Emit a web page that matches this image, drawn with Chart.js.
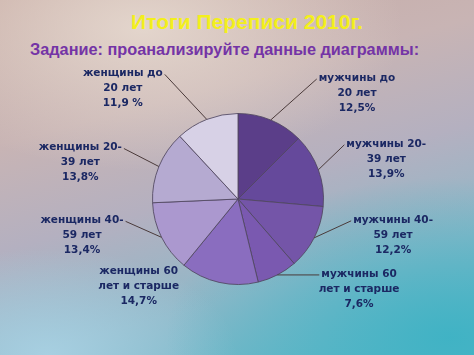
<!DOCTYPE html>
<html lang="ru">
<head>
<meta charset="utf-8">
<title>Итоги Переписи 2010г.</title>
<script src="https://cdn.jsdelivr.net/npm/chart.js@4"></script>
<style>
  html, body { margin: 0; padding: 0; }
  body {
    width: 474px; height: 355px; overflow: hidden; position: relative;
    background:
      radial-gradient(ellipse 55% 40% at 30% 8%, rgba(232,220,210,0.85), rgba(232,220,210,0) 100%),
      radial-gradient(ellipse 60% 45% at 95% 95%, rgba(60,178,196,0.9), rgba(60,178,196,0) 100%),
      radial-gradient(ellipse 40% 30% at 10% 100%, rgba(170,210,228,0.9), rgba(170,210,228,0) 100%),
      linear-gradient(165deg, #c7aba4 0%, #c8b4b4 30%, #b4b0c0 52%, #8fb8c8 75%, #5cb8c8 100%);
    font-family: "Liberation Sans", Arial, sans-serif;
  }
  .head { position: absolute; left: 0; width: 474px; font-weight: bold; white-space: nowrap; }
  #title { top: 10px; text-align: center; padding-left: 20px; box-sizing: border-box;
           color: #f3ef1c; font-size: 21px; }
  #subtitle { top: 40px; left: 30px; width: auto; color: #7434a6; font-size: 16.3px; }
  canvas { position: absolute; left: 0; top: 0; }
</style>
</head>
<body>
<div id="title" class="head">Итоги Переписи 2010г.</div>
<div id="subtitle" class="head">Задание: проанализируйте данные диаграммы:</div>
<canvas id="censusChart" width="474" height="355"></canvas>
<script>
// --- DATA ---
const groups = [
  ['мужчины до', '20 лет'],
  ['мужчины 20-', '39 лет'],
  ['мужчины 40-', '59 лет'],
  ['мужчины 60', 'лет и старше'],
  ['женщины 60', 'лет и старше'],
  ['женщины 40-', '59 лет'],
  ['женщины 20-', '39 лет'],
  ['женщины до', '20 лет']
];
const shares = [12.5, 13.9, 12.2, 7.6, 14.7, 13.4, 13.8, 11.9];
const shareText = ['12,5%', '13,9%', '12,2%', '7,6%', '14,7%', '13,4%', '13,8%', '11,9 %'];

// --- LOOK ---
const sliceColors = ['#5b3e89', '#65499b', '#7455a8', '#7a59b0', '#8a6dbf', '#ab98cf', '#b5aad1', '#d7d1e6'];
// where each callout elbow sits relative to the slice edge: [dx, dy, side, drawLine]
const callouts = [
  [46, -41, 1, true],
  [26, -25, 1, true],
  [37, -17, 1, true],
  [42, 0, 1, true],
  [-39, -10, -1, false],
  [-36, -16, -1, true],
  [-35, -18, -1, true],
  [-42, -45, -1, true]
];

// --- CALLOUT PLUGIN ---
const calloutPlugin = {
  id: 'callouts',
  afterDatasetsDraw(chart) {
    const c = chart.ctx;
    const arcs = chart.getDatasetMeta(0).data;
    c.save();
    c.font = 'bold 10.5px "DejaVu Sans", sans-serif';
    c.textBaseline = 'middle';
    c.textAlign = 'center';
    arcs.forEach((arc, i) => {
      const { x, y, startAngle, endAngle, outerRadius } = arc.getProps(['x', 'y', 'startAngle', 'endAngle', 'outerRadius'], true);
      const mid = (startAngle + endAngle) / 2;
      const ex = x + Math.cos(mid) * outerRadius;
      const ey = y + Math.sin(mid) * outerRadius;
      const [dx, dy, side, drawLine] = callouts[i];
      const ax = ex + dx, ay = ey + dy;
      if (drawLine) {
        c.strokeStyle = '#4a3a3a';
        c.lineWidth = 1;
        c.beginPath();
        c.moveTo(ex, ey);
        c.lineTo(ax, ay);
        c.stroke();
      }
      const lines = [groups[i][0], groups[i][1], shareText[i]];
      const w0 = c.measureText(lines[0]).width;
      const cx = ax + side * (w0 / 2 + 2);
      c.fillStyle = '#1b2863';
      lines.forEach((t, k) => c.fillText(t, cx, ay - 1 + k * 15));
    });
    c.restore();
  }
};

// --- CHART ---
const ctx = document.getElementById('censusChart');
new Chart(ctx, {
  type: 'pie',
  data: {
    labels: groups.map(g => g.join(' ')),
    datasets: [{
      data: shares,
      backgroundColor: sliceColors,
      borderColor: 'rgba(80,70,95,0.85)',
      borderWidth: 1
    }]
  },
  options: {
    responsive: false,
    animation: false,
    layout: { padding: { left: 152, right: 150, top: 113, bottom: 70 } },
    plugins: {
      legend: { display: false },
      tooltip: { enabled: false }
    }
  },
  plugins: [calloutPlugin]
});
</script>
</body>
</html>
